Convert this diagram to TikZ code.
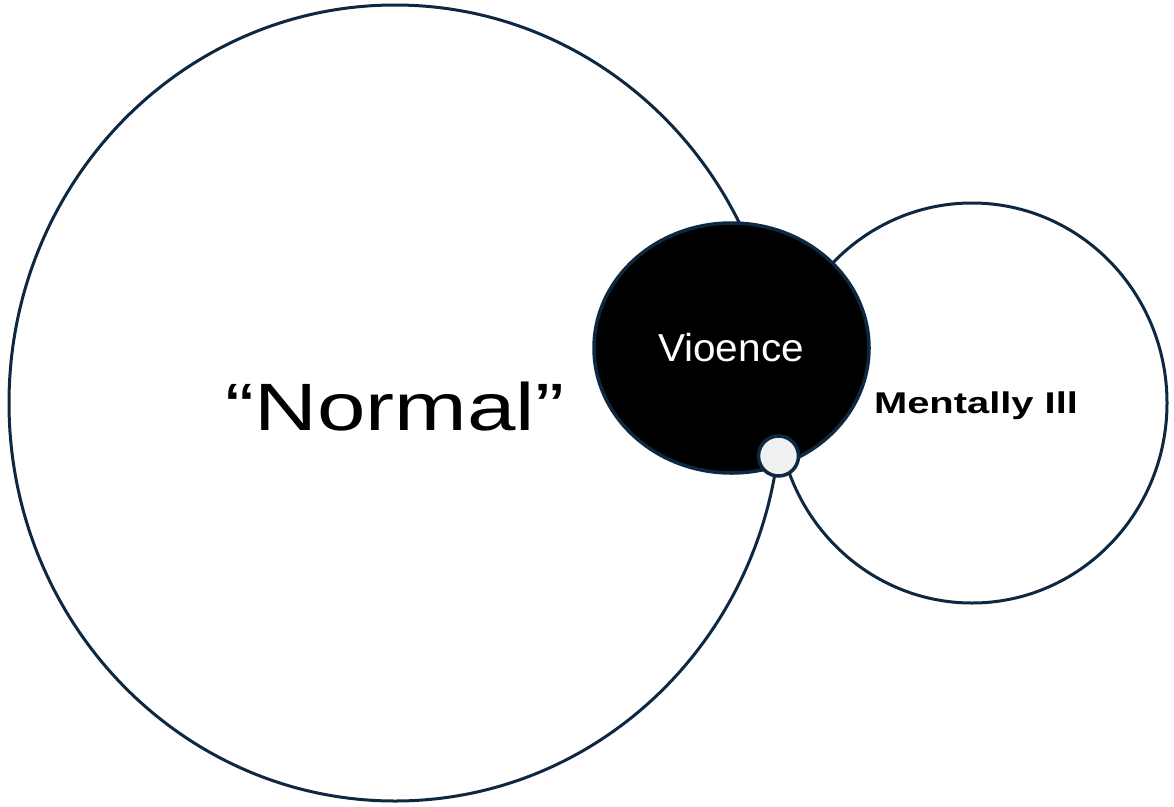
\documentclass[tikz,border=0pt]{standalone}
\usepackage{fontspec}
\setmainfont{Liberation Sans}
\newfontfamily\normalfnt[FakeStretch=1.3]{Liberation Sans}
\newfontfamily\illfnt[FakeStretch=1.33]{Liberation Sans}
\newfontfamily\viofnt[FakeStretch=1.04]{Liberation Sans}
\usetikzlibrary{shapes.geometric}
\definecolor{navy}{HTML}{0E2841}
\definecolor{dotgray}{HTML}{F0F0F0}
\tikzset{
  ring/.style={ellipse, draw=navy, line width=3pt, inner sep=0pt, fill=white},
  core/.style={ellipse, draw=navy, line width=3.5pt, inner sep=0pt, fill=black},
  dot/.style={circle, draw=navy, line width=3.5pt, inner sep=0pt, fill=dotgray},
  label/.style={anchor=base, inner sep=0pt}
}
\begin{document}
\begin{tikzpicture}[x=1pt,y=-1pt]
\useasboundingbox[fill=white] (0,0) rectangle (1174,806);
\node[ring, minimum width=772pt, minimum height=796pt] (normal) at (395,403) {};
\node[ring, minimum width=390pt, minimum height=400pt] (ill) at (972,403) {};
\node[core, minimum width=275pt, minimum height=250pt] (vio) at (731.5,348) {};
\node[dot, minimum size=40pt] (small) at (778.5,456) {};
\node[label, font=\normalfnt\fontsize{67}{67}\selectfont] (normaltext) at (395,430) {“Normal”};
\node[label, text=white, font=\viofnt\fontsize{39}{39}\selectfont] (viotext) at (731,361) {Vioence};
\node[label, font=\illfnt\bfseries\fontsize{30}{30}\selectfont] (illtext) at (976,413) {Mentally Ill};
\end{tikzpicture}
\end{document}
